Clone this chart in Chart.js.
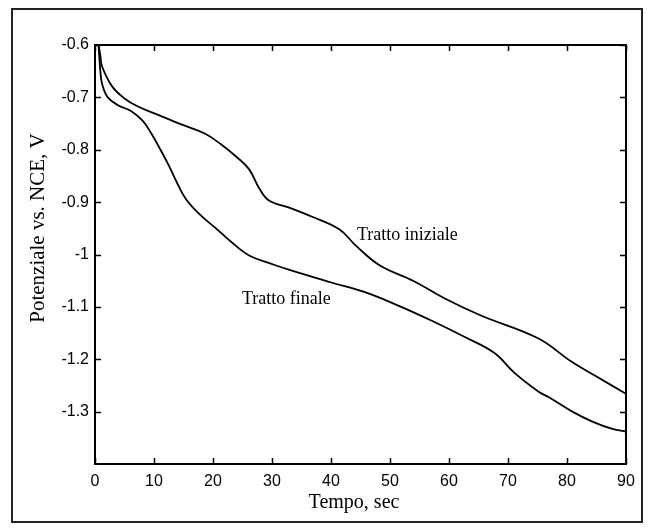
<!DOCTYPE html>
<html>
<head>
<meta charset="utf-8">
<script src="https://cdn.jsdelivr.net/npm/chart.js@4.4.1/dist/chart.umd.min.js"></script>
<style>
  html, body { margin: 0; padding: 0; background: #fff; }
  #wrap { width: 650px; height: 530px; }
</style>
</head>
<body>
<div id="wrap"><canvas id="chart" width="650" height="530"></canvas></div>
<script>
// Tratto iniziale (curva superiore)
const tempoIniziale = [0.6, 0.9, 1.2, 2.9, 5.0, 7.2, 10.6, 14.5, 18.6, 21.4, 23.8, 26.1, 27.8, 29.5, 32.8, 36.8, 41.4, 44.3, 48.3, 53.9, 59.8, 65.5, 75.1, 80.8, 85.0, 89.4, 90];
const potIniziale = [-0.6, -0.62, -0.641, -0.679, -0.702, -0.717, -0.733, -0.751, -0.769, -0.79, -0.812, -0.837, -0.873, -0.897, -0.910, -0.928, -0.952, -0.984, -1.021, -1.050, -1.087, -1.117, -1.160, -1.205, -1.233, -1.262, -1.266];

// Tratto finale (curva inferiore)
const tempoFinale = [0.6, 0.9, 1.2, 2.1, 3.9, 6.1, 8.1, 9.5, 11.1, 12.5, 13.9, 15.4, 17.7, 20.6, 23.3, 26.3, 29.7, 33.1, 39.9, 45.5, 51.3, 57.0, 62.6, 67.7, 71.1, 75.2, 77.0, 80.9, 84.3, 87.7, 90];
const potFinale = [-0.6, -0.649, -0.674, -0.699, -0.715, -0.726, -0.745, -0.768, -0.800, -0.830, -0.863, -0.894, -0.923, -0.951, -0.978, -1.003, -1.017, -1.030, -1.053, -1.071, -1.097, -1.126, -1.157, -1.188, -1.226, -1.262, -1.273, -1.300, -1.319, -1.333, -1.338];

// etichette delle curve
const curveLabels = ['Tratto iniziale', 'Tratto finale'];
const curveLabelX = [44.4, 24.9];
const curveLabelY = [-0.972, -1.095];

const xTicks = [0, 10, 20, 30, 40, 50, 60, 70, 80, 90];
const yTicks = [-0.6, -0.7, -0.8, -0.9, -1, -1.1, -1.2, -1.3];

const xTitle = 'Tempo, sec';
const yTitle = 'Potenziale vs. NCE, V';

const toPoints = (xs, ys) => xs.map((x, i) => ({ x: x, y: ys[i] }));

// cornice, tacche interne, titoli, etichette
const decorPlugin = {
    id: 'decor',
    beforeDraw(chart) {
        const c = chart.ctx;
        c.save();
        c.fillStyle = '#fff';
        c.fillRect(0, 0, chart.width, chart.height);
        c.strokeStyle = '#222';
        c.lineWidth = 2;
        c.strokeRect(12, 9, 630, 513);
        c.restore();
    },
    afterDraw(chart) {
        const c = chart.ctx;
        const a = chart.chartArea;
        const sx = chart.scales.x, sy = chart.scales.y;
        c.save();
        c.strokeStyle = '#000';
        c.lineWidth = 2;
        c.strokeRect(a.left, a.top, a.right - a.left, a.bottom - a.top);
        c.lineWidth = 1.5;
        c.beginPath();
        for (const t of xTicks) {
            const px = Math.round(sx.getPixelForValue(t)) + 0.5;
            c.moveTo(px, a.bottom); c.lineTo(px, a.bottom - 6);
            c.moveTo(px, a.top); c.lineTo(px, a.top + 6);
        }
        for (const v of yTicks) {
            const py = Math.round(sy.getPixelForValue(v)) + 0.5;
            c.moveTo(a.left, py); c.lineTo(a.left + 6, py);
            c.moveTo(a.right, py); c.lineTo(a.right - 6, py);
        }
        c.stroke();

        c.fillStyle = '#000';
        c.font = '18px "Liberation Serif", "Times New Roman", serif';
        c.textBaseline = 'alphabetic';
        c.textAlign = 'left';
        curveLabels.forEach((s, i) => {
            c.fillText(s, sx.getPixelForValue(curveLabelX[i]), sy.getPixelForValue(curveLabelY[i]));
        });

        c.font = '20px "Liberation Serif", "Times New Roman", serif';
        c.textAlign = 'center';
        c.fillText(xTitle, 354, 508);

        c.save();
        c.translate(44, 228);
        c.rotate(-Math.PI / 2);
        c.font = '21px "Liberation Serif", "Times New Roman", serif';
        c.fillText(yTitle, 0, 0);
        c.restore();
        c.restore();
    }
};

const ctx = document.getElementById('chart').getContext('2d');
new Chart(ctx, {
    type: 'scatter',
    data: {
        datasets: [
            {
                label: curveLabels[0],
                data: toPoints(tempoIniziale, potIniziale),
                showLine: true,
                borderColor: '#000',
                borderWidth: 1.8,
                pointRadius: 0,
                tension: 0.4
            },
            {
                label: curveLabels[1],
                data: toPoints(tempoFinale, potFinale),
                showLine: true,
                borderColor: '#000',
                borderWidth: 1.8,
                pointRadius: 0,
                tension: 0.4
            }
        ]
    },
    options: {
        responsive: false,
        animation: false,
        layout: { padding: { left: 0, top: 45, right: 24, bottom: 0 } },
        plugins: { legend: { display: false }, tooltip: { enabled: false } },
        scales: {
            x: {
                type: 'linear',
                min: 0, max: 90,
                afterBuildTicks: s => { s.ticks = xTicks.map(v => ({ value: v })); },
                afterFit: s => { s.height = 66; },
                grid: { display: false, drawTicks: false },
                border: { display: false },
                ticks: {
                    color: '#000',
                    padding: 8,
                    font: { family: '"Liberation Sans", Arial, sans-serif', size: 16 },
                    callback: v => String(v)
                }
            },
            y: {
                type: 'linear',
                min: -1.4, max: -0.6,
                afterBuildTicks: s => { s.ticks = yTicks.map(v => ({ value: v })); },
                afterFit: s => { s.width = 95; },
                grid: { display: false, drawTicks: false },
                border: { display: false },
                ticks: {
                    color: '#000',
                    padding: 6,
                    font: { family: '"Liberation Sans", Arial, sans-serif', size: 16 },
                    callback: v => String(Number(v.toFixed(1)))
                }
            }
        }
    },
    plugins: [decorPlugin]
});
</script>
</body>
</html>
